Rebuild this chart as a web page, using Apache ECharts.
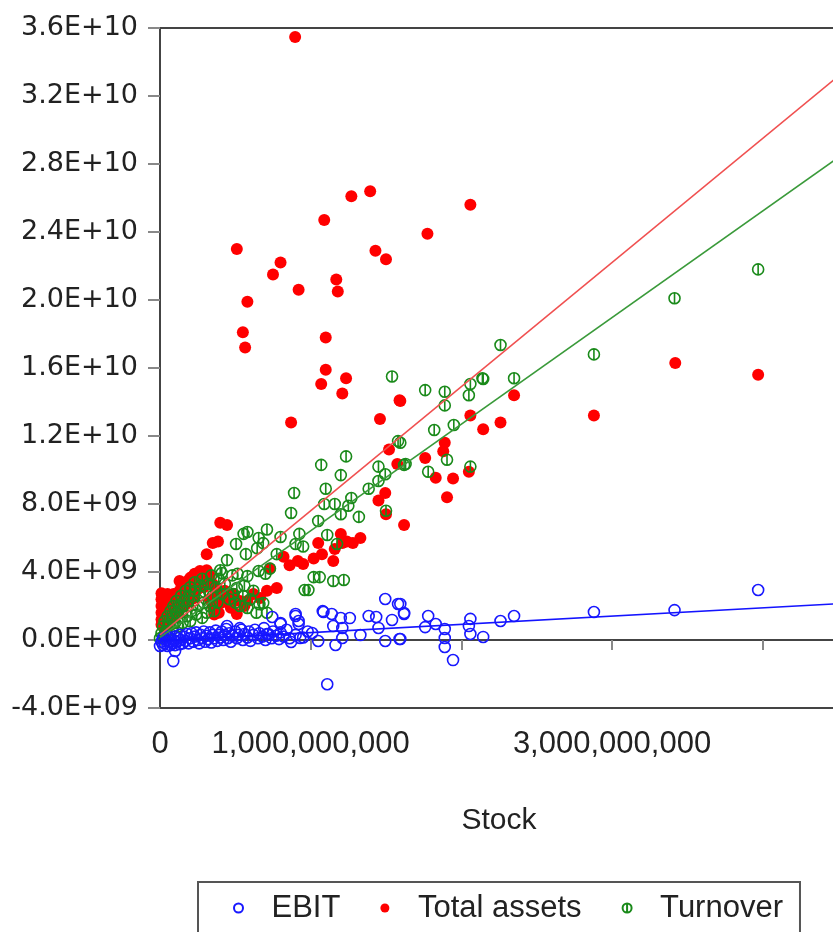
<!DOCTYPE html>
<html>
<head>
<meta charset="utf-8">
<script src="https://cdn.jsdelivr.net/npm/echarts@6/dist/echarts.min.js"></script>
<style>
html,body{margin:0;padding:0;background:#fff;}
#chart{width:833px;height:932px;}
</style>
</head>
<body>
<div id="chart"></div>
<script>
// All values in billions (1e9) of the original units.
// Total assets vs Stock: [stock, total assets]
var totalAssetsPoints = [
  [0.897,35.47],[1.27,26.1],[1.395,26.4],[1.09,24.7],[0.51,23.0],[1.43,22.9],[1.50,22.4],[0.80,22.2],
  [0.75,21.5],[1.17,21.2],[0.92,20.6],[1.18,20.5],[0.58,19.9],[0.55,18.1],[1.10,17.8],[0.565,17.2],
  [1.10,15.9],[1.235,15.4],[1.775,23.9],[2.06,25.6],[3.42,16.3],[3.97,15.6],[1.07,15.06],[1.21,14.5],
  [0.87,12.8],[1.59,14.1],[1.46,13.0],[1.52,11.2],[1.575,10.35],[1.495,8.65],[1.45,8.2],[1.50,7.4],
  [1.62,6.76],[0.40,6.9],[0.445,6.76],[0.385,5.8],[0.35,5.7],[0.31,5.05],[0.265,4.06],[0.2,3.65],
  [0.13,3.47],[0.915,4.65],[0.95,4.47],[1.02,4.8],[1.05,5.7],[1.075,5.05],[1.15,4.65],[1.16,5.35],
  [1.21,5.7],[1.24,5.8],[1.28,5.7],[1.33,6.0],[1.20,6.24],[0.775,3.06],[0.71,2.9],[0.73,4.2],
  [0.665,2.47],[0.62,2.7],[0.58,2.3],[0.487,2.7],[0.465,2.3],[0.51,1.53],[0.38,2.7],
  [1.595,14.06],[2.35,14.4],[2.06,13.2],[2.26,12.8],[2.145,12.4],[2.88,13.2],[1.89,11.6],[1.88,11.1],
  [1.76,10.7],[2.05,9.9],[1.83,9.55],[1.945,9.5],[1.905,8.4],[0.82,4.9],[0.86,4.4],
  [0.01,2.75],[0.01,2.4],[0.01,2.0],[0.01,1.6],[0.01,1.2],[0.01,0.9],[0.03,2.6],[0.03,2.2],[0.03,1.8],
  [0.03,1.4],[0.03,1.0],[0.05,2.7],[0.05,2.3],[0.05,1.9],[0.05,1.5],[0.05,0.8],[0.07,2.5],[0.07,2.1],
  [0.07,1.7],[0.07,1.2],[0.09,2.7],[0.09,2.3],[0.09,1.9],[0.09,1.4],[0.11,2.6],[0.11,2.2],[0.11,1.6],
  [0.13,2.9],[0.13,2.4],[0.13,1.8],[0.15,3.1],[0.15,2.6],[0.15,2.0],[0.17,3.3],[0.17,2.8],[0.17,2.1],
  [0.19,3.5],[0.19,2.9],[0.19,2.3],[0.21,3.7],[0.21,3.1],[0.21,2.4],[0.23,3.9],[0.23,3.2],[0.23,2.5],
  [0.25,3.8],[0.25,3.0],[0.27,4.0],[0.27,3.4],[0.29,3.9],[0.29,3.1],[0.31,4.1],[0.31,3.5],[0.33,3.8],
  [0.33,2.4],[0.35,3.3],[0.35,2.0],[0.37,3.0],[0.37,1.8],[0.39,2.6],[0.41,2.2],[0.43,2.9],[0.45,2.5],
  [0.47,1.9],[0.49,2.7],[0.53,2.3],[0.56,2.0],[0.39,1.6],[0.36,1.5]
];
// Turnover vs Stock
var turnoverPoints = [
  [3.97,21.8],[3.415,20.1],[2.88,16.8],[2.26,17.35],[2.14,15.4],[2.35,15.4],[1.76,14.7],[1.89,14.6],
  [2.06,15.06],[2.145,15.35],[1.89,13.8],[2.05,14.4],[1.82,12.35],[1.95,12.65],[1.595,11.6],[1.62,10.3],
  [1.78,9.9],[1.905,10.6],[2.06,10.2],[1.54,15.5],[1.58,11.7],[1.63,10.35],[1.07,10.3],[1.235,10.8],
  [1.20,9.7],[0.89,8.65],[1.10,8.9],[1.45,10.2],[1.495,9.75],[1.45,9.35],[1.385,8.9],[1.27,8.35],
  [1.25,7.9],[1.16,8.0],[1.09,8.0],[1.20,7.4],[1.32,7.24],[1.50,7.6],[0.87,7.47],[1.05,7.0],
  [1.11,6.18],[0.925,6.24],[0.90,5.65],[0.95,5.5],[1.175,5.65],[0.80,6.06],[0.71,6.5],[0.655,6.0],
  [0.58,6.35],[0.555,6.24],[0.505,5.65],[0.57,5.05],[0.645,5.4],[0.685,5.7],[0.775,5.05],[0.73,4.2],
  [0.70,3.9],[0.655,4.06],[0.58,3.76],[0.515,3.9],[0.445,4.7],[0.41,3.94],[1.02,3.7],[1.06,3.7],
  [1.15,3.47],[1.22,3.53],[0.96,2.94],[0.985,2.94],[0.51,3.06],[0.487,2.7],[0.53,2.0],[0.58,1.88],
  [0.685,2.18],
  [0.0,0.1],[0.01,0.4],[0.02,0.8],[0.02,0.2],[0.03,1.1],[0.04,0.5],[0.05,1.4],[0.05,0.3],[0.06,0.9],
  [0.07,1.7],[0.08,0.6],[0.08,1.3],[0.09,2.0],[0.1,1.0],[0.11,1.6],[0.11,2.3],[0.12,0.8],[0.13,1.3],
  [0.13,2.0],[0.14,2.6],[0.15,1.0],[0.15,1.7],[0.16,2.3],[0.17,2.9],[0.18,1.4],[0.18,2.0],[0.19,2.6],
  [0.2,3.1],[0.2,1.1],[0.21,1.7],[0.22,2.3],[0.23,2.9],[0.23,3.4],[0.24,1.5],[0.25,2.0],[0.26,2.6],
  [0.27,3.2],[0.28,1.3],[0.28,3.6],[0.29,2.2],[0.3,2.8],[0.31,1.6],[0.32,3.3],[0.33,2.0],[0.34,3.8],
  [0.35,2.6],[0.36,1.7],[0.37,3.1],[0.38,2.2],[0.39,3.6],[0.4,4.1],[0.41,2.7],[0.43,3.3],[0.46,2.4],
  [0.48,3.8],[0.55,2.6],[0.6,2.4],[0.62,2.9],[0.64,1.6],[0.71,1.6],[0.66,2.1],[0.50,2.2],[0.56,3.2]
];
// EBIT vs Stock
var ebitPoints = [
  [3.97,2.94],[3.415,1.76],[2.88,1.65],[2.35,1.41],[2.26,1.12],[2.06,1.24],[2.05,0.82],[2.06,0.35],
  [2.145,0.18],[1.945,-1.18],[1.89,0.65],[1.89,0.12],[1.89,-0.41],[1.83,0.94],[1.78,1.41],[1.76,0.76],
  [1.62,1.59],[1.595,2.12],[1.595,0.06],[1.495,2.41],[1.58,2.12],[1.62,1.53],[1.385,1.41],[1.435,1.35],
  [1.54,1.18],[1.45,0.71],[1.495,-0.06],[1.59,0.06],[1.33,0.29],[1.21,0.71],[1.26,1.29],[1.2,1.29],
  [1.14,1.53],[1.085,1.65],[1.15,0.82],[1.21,0.12],[1.165,-0.29],[1.11,-2.6],[1.05,-0.06],[1.01,0.41],
  [0.93,0.12],[0.87,-0.12],[0.90,1.41],[0.92,0.94],[0.80,0.94],[0.745,1.35],[0.71,0.35],[0.088,-1.24],
  [0.1,-0.65],[0.9,1.53],[1.08,1.7],[0.92,1.12],[0.8,1.0],[0.53,0.7],[0.445,0.82],
  [0.00,-0.35],[0.01,-0.1],[0.02,-0.3],[0.02,0.1],[0.03,-0.2],[0.04,0.0],[0.05,-0.35],[0.05,0.2],
  [0.06,-0.1],[0.07,-0.3],[0.07,0.1],[0.08,-0.2],[0.09,0.0],[0.1,-0.3],[0.1,0.2],[0.11,-0.1],[0.12,0.1],
  [0.13,-0.25],[0.13,0.3],[0.14,0.0],[0.15,-0.2],[0.16,0.2],[0.17,-0.05],[0.18,0.35],[0.19,-0.2],
  [0.2,0.1],[0.21,0.4],[0.22,-0.1],[0.23,0.2],[0.24,0.45],[0.25,0.0],[0.26,-0.2],[0.27,0.3],[0.28,0.1],
  [0.29,0.5],[0.3,-0.1],[0.31,0.25],[0.32,0.05],[0.33,0.45],[0.34,-0.15],[0.35,0.3],[0.36,0.1],
  [0.37,0.55],[0.38,-0.05],[0.39,0.3],[0.4,0.15],[0.41,0.5],[0.42,0.0],[0.43,0.3],[0.44,0.65],
  [0.45,0.1],[0.46,0.4],[0.47,-0.1],[0.48,0.25],[0.5,0.5],[0.51,0.1],[0.52,0.3],[0.54,0.6],[0.55,0.0],
  [0.56,0.35],[0.58,0.15],[0.59,0.5],[0.6,-0.05],[0.62,0.3],[0.63,0.6],[0.65,0.1],[0.66,0.4],[0.68,0.2],
  [0.69,0.7],[0.7,0.0],[0.72,0.35],[0.74,0.1],[0.75,0.5],[0.77,0.25],[0.79,0.05],[0.8,0.45],[0.82,0.2],
  [0.84,0.6],[0.86,0.1],[0.9,0.3],[0.95,0.15],[0.98,0.5]
];
// Fitted regression lines: [intercept, slope] (billions)
var fitAssets = [0.3, 7.3];
var fitTurnover = [0.15, 6.27];
var fitEbit = [-0.05, 0.485];
var fitRange = [0, 4.6];

var seriesNames = ['EBIT', 'Total assets', 'Turnover'];
var yTickLabels = ['-4.0E+09','0.0E+00','4.0E+09','8.0E+09','1.2E+10','1.6E+10','2.0E+10','2.4E+10','2.8E+10','3.2E+10','3.6E+10'];
var xTickLabels = ['0','1,000,000,000','','3,000,000,000',''];

function fitLine(f){
  return fitRange.map(function(x){ return [x, f[0] + f[1]*x]; });
}

var chart = echarts.init(document.getElementById('chart'), null, {renderer:'canvas'});
var phi = 'path://M10,0A10,10,0,1,1,10,20A10,10,0,1,1,10,0ZM10,0L10,20';
var option = {
  animation: false,
  backgroundColor: '#fff',
  grid: {left:160, top:28, width:678, bottom:224, show:true, borderColor:'#444', borderWidth:2,
         backgroundColor:'transparent', containLabel:false, outerBoundsMode:'none'},
  xAxis: {
    type:'value', min:0, max:4.5, interval:1,
    axisLine:{show:true, lineStyle:{color:'#444', width:2}},
    axisTick:{show:true, length:10, lineStyle:{color:'#888', width:2}},
    splitLine:{show:false},
    axisLabel:{fontFamily:'Liberation Sans', fontSize:31, color:'#222', margin:21,
      formatter:function(v){ var i=Math.round(v); return xTickLabels[i] || ''; }},
    name:'Stock', nameLocation:'middle', nameGap:98,
    nameTextStyle:{fontFamily:'Liberation Sans', fontSize:30, color:'#222'}
  },
  yAxis: {
    type:'value', min:-4, max:36, interval:4,
    axisLine:{show:true, lineStyle:{color:'#444', width:2}},
    axisTick:{show:true, length:12, lineStyle:{color:'#888', width:2}},
    splitLine:{show:false},
    axisLabel:{fontFamily:'DejaVu Sans', fontSize:27, color:'#222', margin:22,
      formatter:function(v){ return yTickLabels[Math.round((v+4)/4)]; }}
  },
  legend: {
    data: seriesNames,
    left:198, top:882, orient:'horizontal',
    padding:[10,17,40,35],
    borderColor:'#555', borderWidth:2,
    itemWidth:56, itemHeight:9, itemGap:40,
    textStyle:{fontFamily:'Liberation Sans', fontSize:31, color:'#222', lineHeight:32}
  },
  series: [
    {name:'Total assets', type:'scatter', data: totalAssetsPoints, symbol:'circle', symbolSize:12,
     itemStyle:{color:'#ff0000', opacity:1}, z:2},
    {name:'Turnover', type:'scatter', data: turnoverPoints, symbol: phi, symbolSize:11,
     itemStyle:{color:'rgba(0,0,0,0)', borderColor:'#1a8a1a', borderWidth:1.6, opacity:1}, z:3},
    {name:'EBIT', type:'scatter', data: ebitPoints, symbol:'circle', symbolSize:11,
     itemStyle:{color:'rgba(0,0,0,0)', borderColor:'#1818ff', borderWidth:1.6, opacity:1}, z:4},
    {name:'fitAssets', type:'line', data: fitLine(fitAssets), showSymbol:false, silent:true,
     lineStyle:{color:'#f05050', width:1.6}, z:5},
    {name:'fitTurnover', type:'line', data: fitLine(fitTurnover), showSymbol:false, silent:true,
     lineStyle:{color:'#3a9a3a', width:1.6}, z:5},
    {name:'fitEbit', type:'line', data: fitLine(fitEbit), showSymbol:false, silent:true,
     lineStyle:{color:'#1414ff', width:1.6}, z:5}
  ]
};
chart.setOption(option);
</script>
</body>
</html>
